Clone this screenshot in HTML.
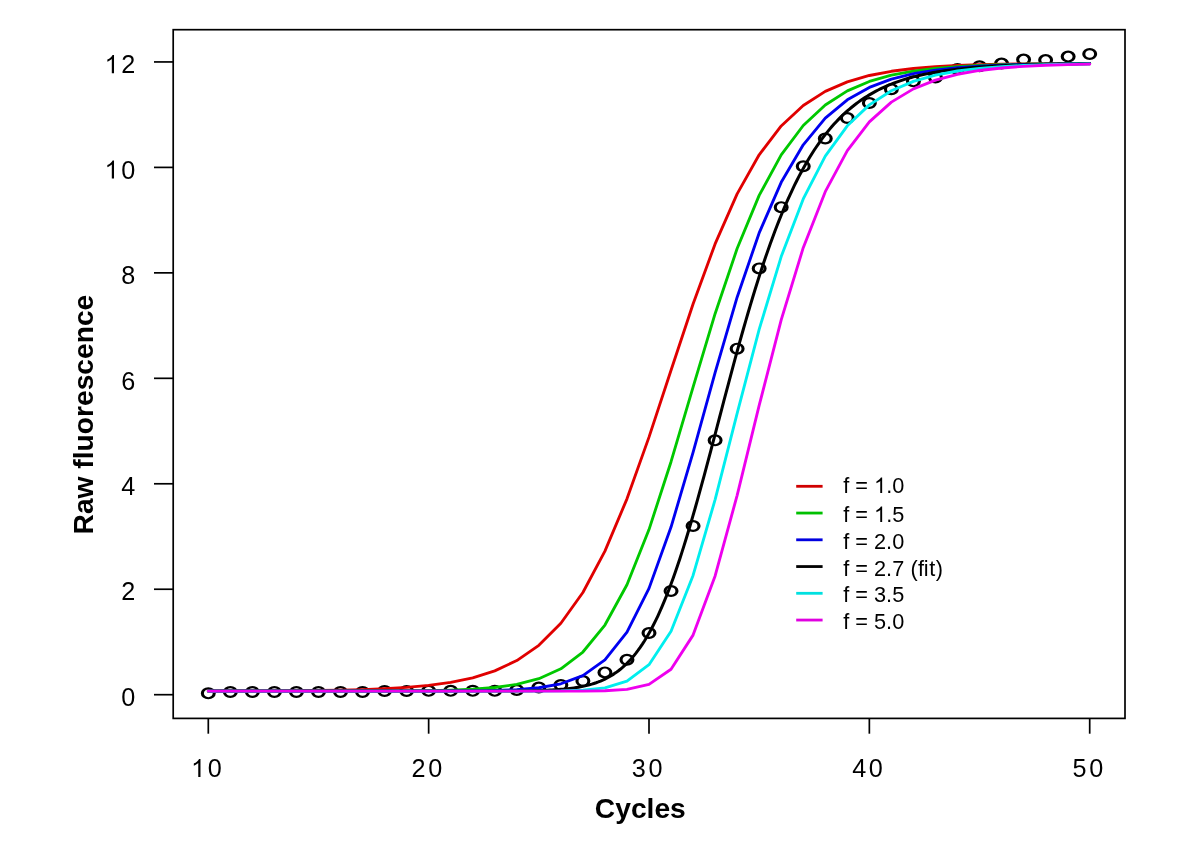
<!DOCTYPE html>
<html><head><meta charset="utf-8"><style>
html,body{margin:0;padding:0;background:#fff;}
svg{display:block;}
text{font-family:"Liberation Sans",sans-serif;fill:#000;}
svg{will-change:transform;}
</style></head><body>
<svg width="1200" height="848" viewBox="0 0 1200 848">
<rect width="1200" height="848" fill="#fff"/>
<g fill="#000" fill-rule="evenodd">
<path d="M200.80 693.30a7.5 6.0 0 1 0 15.0 0a7.5 6.0 0 1 0 -15.0 0ZM203.90 693.30a4.4 3.85 0 1 0 8.8 0a4.4 3.85 0 1 0 -8.8 0Z"/>
<path d="M222.84 692.00a7.5 6.0 0 1 0 15.0 0a7.5 6.0 0 1 0 -15.0 0ZM225.94 692.00a4.4 3.85 0 1 0 8.8 0a4.4 3.85 0 1 0 -8.8 0Z"/>
<path d="M244.87 692.00a7.5 6.0 0 1 0 15.0 0a7.5 6.0 0 1 0 -15.0 0ZM247.97 692.00a4.4 3.85 0 1 0 8.8 0a4.4 3.85 0 1 0 -8.8 0Z"/>
<path d="M266.91 692.00a7.5 6.0 0 1 0 15.0 0a7.5 6.0 0 1 0 -15.0 0ZM270.01 692.00a4.4 3.85 0 1 0 8.8 0a4.4 3.85 0 1 0 -8.8 0Z"/>
<path d="M288.94 692.00a7.5 6.0 0 1 0 15.0 0a7.5 6.0 0 1 0 -15.0 0ZM292.04 692.00a4.4 3.85 0 1 0 8.8 0a4.4 3.85 0 1 0 -8.8 0Z"/>
<path d="M310.98 692.00a7.5 6.0 0 1 0 15.0 0a7.5 6.0 0 1 0 -15.0 0ZM314.08 692.00a4.4 3.85 0 1 0 8.8 0a4.4 3.85 0 1 0 -8.8 0Z"/>
<path d="M333.01 692.00a7.5 6.0 0 1 0 15.0 0a7.5 6.0 0 1 0 -15.0 0ZM336.11 692.00a4.4 3.85 0 1 0 8.8 0a4.4 3.85 0 1 0 -8.8 0Z"/>
<path d="M355.05 692.00a7.5 6.0 0 1 0 15.0 0a7.5 6.0 0 1 0 -15.0 0ZM358.15 692.00a4.4 3.85 0 1 0 8.8 0a4.4 3.85 0 1 0 -8.8 0Z"/>
<path d="M377.08 691.00a7.5 6.0 0 1 0 15.0 0a7.5 6.0 0 1 0 -15.0 0ZM380.18 691.00a4.4 3.85 0 1 0 8.8 0a4.4 3.85 0 1 0 -8.8 0Z"/>
<path d="M399.12 691.00a7.5 6.0 0 1 0 15.0 0a7.5 6.0 0 1 0 -15.0 0ZM402.22 691.00a4.4 3.85 0 1 0 8.8 0a4.4 3.85 0 1 0 -8.8 0Z"/>
<path d="M421.15 690.80a7.5 6.0 0 1 0 15.0 0a7.5 6.0 0 1 0 -15.0 0ZM424.25 690.80a4.4 3.85 0 1 0 8.8 0a4.4 3.85 0 1 0 -8.8 0Z"/>
<path d="M443.19 690.80a7.5 6.0 0 1 0 15.0 0a7.5 6.0 0 1 0 -15.0 0ZM446.29 690.80a4.4 3.85 0 1 0 8.8 0a4.4 3.85 0 1 0 -8.8 0Z"/>
<path d="M465.22 690.80a7.5 6.0 0 1 0 15.0 0a7.5 6.0 0 1 0 -15.0 0ZM468.32 690.80a4.4 3.85 0 1 0 8.8 0a4.4 3.85 0 1 0 -8.8 0Z"/>
<path d="M487.25 690.80a7.5 6.0 0 1 0 15.0 0a7.5 6.0 0 1 0 -15.0 0ZM490.36 690.80a4.4 3.85 0 1 0 8.8 0a4.4 3.85 0 1 0 -8.8 0Z"/>
<path d="M509.29 690.00a7.5 6.0 0 1 0 15.0 0a7.5 6.0 0 1 0 -15.0 0ZM512.39 690.00a4.4 3.85 0 1 0 8.8 0a4.4 3.85 0 1 0 -8.8 0Z"/>
<path d="M531.33 687.50a7.5 6.0 0 1 0 15.0 0a7.5 6.0 0 1 0 -15.0 0ZM534.43 687.50a4.4 3.85 0 1 0 8.8 0a4.4 3.85 0 1 0 -8.8 0Z"/>
<path d="M553.36 685.00a7.5 6.0 0 1 0 15.0 0a7.5 6.0 0 1 0 -15.0 0ZM556.46 685.00a4.4 3.85 0 1 0 8.8 0a4.4 3.85 0 1 0 -8.8 0Z"/>
<path d="M575.39 681.00a7.5 6.0 0 1 0 15.0 0a7.5 6.0 0 1 0 -15.0 0ZM578.50 681.00a4.4 3.85 0 1 0 8.8 0a4.4 3.85 0 1 0 -8.8 0Z"/>
<path d="M597.43 672.40a7.5 6.0 0 1 0 15.0 0a7.5 6.0 0 1 0 -15.0 0ZM600.53 672.40a4.4 3.85 0 1 0 8.8 0a4.4 3.85 0 1 0 -8.8 0Z"/>
<path d="M619.47 659.80a7.5 6.0 0 1 0 15.0 0a7.5 6.0 0 1 0 -15.0 0ZM622.57 659.80a4.4 3.85 0 1 0 8.8 0a4.4 3.85 0 1 0 -8.8 0Z"/>
<path d="M641.50 633.00a7.5 6.0 0 1 0 15.0 0a7.5 6.0 0 1 0 -15.0 0ZM644.60 633.00a4.4 3.85 0 1 0 8.8 0a4.4 3.85 0 1 0 -8.8 0Z"/>
<path d="M663.54 591.00a7.5 6.0 0 1 0 15.0 0a7.5 6.0 0 1 0 -15.0 0ZM666.64 591.00a4.4 3.85 0 1 0 8.8 0a4.4 3.85 0 1 0 -8.8 0Z"/>
<path d="M685.57 526.00a7.5 6.0 0 1 0 15.0 0a7.5 6.0 0 1 0 -15.0 0ZM688.67 526.00a4.4 3.85 0 1 0 8.8 0a4.4 3.85 0 1 0 -8.8 0Z"/>
<path d="M707.61 440.30a7.5 6.0 0 1 0 15.0 0a7.5 6.0 0 1 0 -15.0 0ZM710.71 440.30a4.4 3.85 0 1 0 8.8 0a4.4 3.85 0 1 0 -8.8 0Z"/>
<path d="M729.64 348.70a7.5 6.0 0 1 0 15.0 0a7.5 6.0 0 1 0 -15.0 0ZM732.74 348.70a4.4 3.85 0 1 0 8.8 0a4.4 3.85 0 1 0 -8.8 0Z"/>
<path d="M751.67 268.40a7.5 6.0 0 1 0 15.0 0a7.5 6.0 0 1 0 -15.0 0ZM754.77 268.40a4.4 3.85 0 1 0 8.8 0a4.4 3.85 0 1 0 -8.8 0Z"/>
<path d="M773.71 207.20a7.5 6.0 0 1 0 15.0 0a7.5 6.0 0 1 0 -15.0 0ZM776.81 207.20a4.4 3.85 0 1 0 8.8 0a4.4 3.85 0 1 0 -8.8 0Z"/>
<path d="M795.75 166.30a7.5 6.0 0 1 0 15.0 0a7.5 6.0 0 1 0 -15.0 0ZM798.85 166.30a4.4 3.85 0 1 0 8.8 0a4.4 3.85 0 1 0 -8.8 0Z"/>
<path d="M817.78 138.50a7.5 6.0 0 1 0 15.0 0a7.5 6.0 0 1 0 -15.0 0ZM820.88 138.50a4.4 3.85 0 1 0 8.8 0a4.4 3.85 0 1 0 -8.8 0Z"/>
<path d="M839.82 118.00a7.5 6.0 0 1 0 15.0 0a7.5 6.0 0 1 0 -15.0 0ZM842.92 118.00a4.4 3.85 0 1 0 8.8 0a4.4 3.85 0 1 0 -8.8 0Z"/>
<path d="M861.85 103.00a7.5 6.0 0 1 0 15.0 0a7.5 6.0 0 1 0 -15.0 0ZM864.95 103.00a4.4 3.85 0 1 0 8.8 0a4.4 3.85 0 1 0 -8.8 0Z"/>
<path d="M883.88 89.20a7.5 6.0 0 1 0 15.0 0a7.5 6.0 0 1 0 -15.0 0ZM886.99 89.20a4.4 3.85 0 1 0 8.8 0a4.4 3.85 0 1 0 -8.8 0Z"/>
<path d="M905.92 81.30a7.5 6.0 0 1 0 15.0 0a7.5 6.0 0 1 0 -15.0 0ZM909.02 81.30a4.4 3.85 0 1 0 8.8 0a4.4 3.85 0 1 0 -8.8 0Z"/>
<path d="M927.95 77.50a7.5 6.0 0 1 0 15.0 0a7.5 6.0 0 1 0 -15.0 0ZM931.05 77.50a4.4 3.85 0 1 0 8.8 0a4.4 3.85 0 1 0 -8.8 0Z"/>
<path d="M949.99 68.90a7.5 6.0 0 1 0 15.0 0a7.5 6.0 0 1 0 -15.0 0ZM953.09 68.90a4.4 3.85 0 1 0 8.8 0a4.4 3.85 0 1 0 -8.8 0Z"/>
<path d="M972.03 66.25a7.5 6.0 0 1 0 15.0 0a7.5 6.0 0 1 0 -15.0 0ZM975.13 66.25a4.4 3.85 0 1 0 8.8 0a4.4 3.85 0 1 0 -8.8 0Z"/>
<path d="M994.06 63.60a7.5 6.0 0 1 0 15.0 0a7.5 6.0 0 1 0 -15.0 0ZM997.16 63.60a4.4 3.85 0 1 0 8.8 0a4.4 3.85 0 1 0 -8.8 0Z"/>
<path d="M1016.10 59.60a7.5 6.0 0 1 0 15.0 0a7.5 6.0 0 1 0 -15.0 0ZM1019.20 59.60a4.4 3.85 0 1 0 8.8 0a4.4 3.85 0 1 0 -8.8 0Z"/>
<path d="M1038.13 60.10a7.5 6.0 0 1 0 15.0 0a7.5 6.0 0 1 0 -15.0 0ZM1041.23 60.10a4.4 3.85 0 1 0 8.8 0a4.4 3.85 0 1 0 -8.8 0Z"/>
<path d="M1060.66 56.60a7.5 6.0 0 1 0 15.0 0a7.5 6.0 0 1 0 -15.0 0ZM1063.76 56.60a4.4 3.85 0 1 0 8.8 0a4.4 3.85 0 1 0 -8.8 0Z"/>
<path d="M1082.20 54.00a7.5 6.0 0 1 0 15.0 0a7.5 6.0 0 1 0 -15.0 0ZM1085.30 54.00a4.4 3.85 0 1 0 8.8 0a4.4 3.85 0 1 0 -8.8 0Z"/>
</g>
<g fill="none" stroke-width="2.85" stroke-linejoin="round" stroke-linecap="round">
<polyline points="208.30,691.04 230.34,691.00 252.37,690.93 274.41,690.83 296.44,690.68 318.48,690.45 340.51,690.09 362.55,689.55 384.58,688.71 406.62,687.41 428.65,685.44 450.69,682.42 472.72,677.84 494.75,670.91 516.79,660.56 538.83,645.30 560.86,623.27 582.89,592.46 604.93,551.15 626.97,498.83 649.00,437.13 671.04,370.22 693.07,303.95 715.11,243.93 737.14,193.83 759.17,154.79 781.21,125.95 803.25,105.50 825.28,91.39 847.32,81.85 869.35,75.49 891.38,71.28 913.42,68.52 935.45,66.71 957.49,65.53 979.53,64.76 1001.56,64.25 1023.60,63.93 1045.63,63.72 1067.66,63.58 1089.70,63.49" stroke="#e00000"/>
<polyline points="208.30,691.11 230.34,691.11 252.37,691.11 274.41,691.11 296.44,691.10 318.48,691.09 340.51,691.07 362.55,691.04 384.58,690.97 406.62,690.83 428.65,690.57 450.69,690.09 472.72,689.18 494.75,687.49 516.79,684.37 538.83,678.74 560.86,668.81 582.89,652.01 604.93,625.03 626.97,584.70 649.00,529.57 671.04,461.70 693.07,387.07 715.11,313.69 737.14,248.53 759.17,195.40 781.21,154.89 803.25,125.51 825.28,104.95 847.32,90.91 869.35,81.48 891.38,75.22 913.42,71.10 935.45,68.39 957.49,66.63 979.53,65.47 1001.56,64.72 1023.60,64.23 1045.63,63.91 1067.66,63.71 1089.70,63.57" stroke="#00c800"/>
<polyline points="208.30,691.11 230.34,691.11 252.37,691.11 274.41,691.11 296.44,691.11 318.48,691.11 340.51,691.11 362.55,691.11 384.58,691.11 406.62,691.09 428.65,691.06 450.69,690.99 472.72,690.83 494.75,690.46 516.79,689.63 538.83,687.77 560.86,683.78 582.89,675.61 604.93,659.91 626.97,632.22 649.00,588.36 671.04,527.09 693.07,452.34 715.11,372.57 737.14,297.21 759.17,232.93 781.21,182.34 803.25,144.84 825.28,118.20 847.32,99.83 869.35,87.42 891.38,79.14 913.42,73.67 935.45,70.08 957.49,67.72 979.53,66.19 1001.56,65.19 1023.60,64.53 1045.63,64.11 1067.66,63.83 1089.70,63.65" stroke="#0000f0"/>
<polyline points="208.30,691.11 210.50,691.11 212.71,691.11 214.91,691.11 217.11,691.11 219.32,691.11 221.52,691.11 223.72,691.11 225.93,691.11 228.13,691.11 230.34,691.11 232.54,691.11 234.74,691.11 236.95,691.11 239.15,691.11 241.35,691.11 243.56,691.11 245.76,691.11 247.96,691.11 250.17,691.11 252.37,691.11 254.57,691.11 256.78,691.11 258.98,691.11 261.18,691.11 263.39,691.11 265.59,691.11 267.79,691.11 270.00,691.11 272.20,691.11 274.41,691.11 276.61,691.11 278.81,691.11 281.02,691.11 283.22,691.11 285.42,691.11 287.63,691.11 289.83,691.11 292.03,691.11 294.24,691.11 296.44,691.11 298.64,691.11 300.85,691.11 303.05,691.11 305.25,691.11 307.46,691.11 309.66,691.11 311.86,691.11 314.07,691.11 316.27,691.11 318.48,691.11 320.68,691.11 322.88,691.11 325.09,691.11 327.29,691.11 329.49,691.11 331.70,691.11 333.90,691.11 336.10,691.11 338.31,691.11 340.51,691.11 342.71,691.11 344.92,691.11 347.12,691.11 349.32,691.11 351.53,691.11 353.73,691.11 355.93,691.11 358.14,691.11 360.34,691.11 362.55,691.11 364.75,691.11 366.95,691.11 369.16,691.11 371.36,691.11 373.56,691.11 375.77,691.11 377.97,691.11 380.17,691.11 382.38,691.11 384.58,691.11 386.78,691.11 388.99,691.11 391.19,691.11 393.39,691.11 395.60,691.11 397.80,691.11 400.00,691.11 402.21,691.11 404.41,691.11 406.62,691.11 408.82,691.11 411.02,691.11 413.23,691.11 415.43,691.11 417.63,691.11 419.84,691.11 422.04,691.11 424.24,691.11 426.45,691.11 428.65,691.11 430.85,691.11 433.06,691.11 435.26,691.11 437.46,691.11 439.67,691.11 441.87,691.11 444.07,691.11 446.28,691.11 448.48,691.11 450.69,691.11 452.89,691.11 455.09,691.10 457.30,691.10 459.50,691.10 461.70,691.10 463.91,691.10 466.11,691.10 468.31,691.09 470.52,691.09 472.72,691.09 474.92,691.09 477.13,691.08 479.33,691.08 481.53,691.08 483.74,691.07 485.94,691.07 488.14,691.06 490.35,691.06 492.55,691.05 494.75,691.04 496.96,691.03 499.16,691.02 501.37,691.01 503.57,691.00 505.77,690.99 507.98,690.97 510.18,690.96 512.38,690.94 514.59,690.92 516.79,690.90 518.99,690.87 521.20,690.84 523.40,690.81 525.60,690.78 527.81,690.74 530.01,690.70 532.21,690.65 534.42,690.60 536.62,690.54 538.83,690.48 541.03,690.41 543.23,690.33 545.44,690.25 547.64,690.15 549.84,690.04 552.05,689.93 554.25,689.80 556.45,689.66 558.66,689.50 560.86,689.33 563.06,689.14 565.27,688.93 567.47,688.70 569.67,688.45 571.88,688.17 574.08,687.87 576.28,687.53 578.49,687.17 580.69,686.77 582.89,686.33 585.10,685.85 587.30,685.32 589.51,684.75 591.71,684.13 593.91,683.45 596.12,682.72 598.32,681.92 600.52,681.05 602.73,680.10 604.93,679.08 607.13,677.98 609.34,676.78 611.54,675.50 613.74,674.11 615.95,672.61 618.15,671.01 620.35,669.28 622.56,667.43 624.76,665.45 626.97,663.33 629.17,661.07 631.37,658.66 633.58,656.09 635.78,653.36 637.98,650.46 640.19,647.39 642.39,644.14 644.59,640.71 646.80,637.09 649.00,633.27 651.20,629.26 653.41,625.05 655.61,620.64 657.81,616.02 660.02,611.20 662.22,606.17 664.42,600.94 666.63,595.50 668.83,589.85 671.04,584.01 673.24,577.96 675.44,571.72 677.65,565.29 679.85,558.67 682.05,551.87 684.26,544.90 686.46,537.76 688.66,530.47 690.87,523.03 693.07,515.45 695.27,507.74 697.48,499.91 699.68,491.97 701.88,483.93 704.09,475.81 706.29,467.61 708.49,459.35 710.70,451.04 712.90,442.69 715.11,434.30 717.31,425.91 719.51,417.50 721.72,409.11 723.92,400.73 726.12,392.38 728.33,384.06 730.53,375.80 732.73,367.59 734.94,359.46 737.14,351.39 739.34,343.41 741.55,335.53 743.75,327.74 745.95,320.06 748.16,312.50 750.36,305.05 752.56,297.72 754.77,290.52 756.97,283.46 759.17,276.53 761.38,269.74 763.58,263.09 765.79,256.58 767.99,250.22 770.19,244.01 772.40,237.95 774.60,232.03 776.80,226.27 779.01,220.65 781.21,215.19 783.41,209.87 785.62,204.69 787.82,199.67 790.02,194.79 792.23,190.05 794.43,185.45 796.63,180.99 798.84,176.67 801.04,172.49 803.25,168.43 805.45,164.51 807.65,160.71 809.86,157.04 812.06,153.49 814.26,150.06 816.47,146.75 818.67,143.55 820.87,140.46 823.08,137.48 825.28,134.60 827.48,131.82 829.69,129.15 831.89,126.57 834.09,124.08 836.30,121.68 838.50,119.38 840.70,117.15 842.91,115.01 845.11,112.95 847.32,110.97 849.52,109.06 851.72,107.23 853.93,105.46 856.13,103.77 858.33,102.13 860.54,100.56 862.74,99.06 864.94,97.60 867.15,96.21 869.35,94.87 871.55,93.59 873.76,92.35 875.96,91.16 878.16,90.02 880.37,88.93 882.57,87.88 884.77,86.87 886.98,85.90 889.18,84.97 891.38,84.08 893.59,83.22 895.79,82.40 898.00,81.61 900.20,80.85 902.40,80.13 904.61,79.43 906.81,78.76 909.01,78.12 911.22,77.51 913.42,76.92 915.62,76.35 917.83,75.81 920.03,75.29 922.23,74.79 924.44,74.31 926.64,73.86 928.84,73.42 931.05,73.00 933.25,72.59 935.45,72.20 937.66,71.83 939.86,71.48 942.07,71.14 944.27,70.81 946.47,70.50 948.68,70.20 950.88,69.91 953.08,69.63 955.29,69.37 957.49,69.11 959.69,68.87 961.90,68.64 964.10,68.41 966.30,68.20 968.51,68.00 970.71,67.80 972.91,67.61 975.12,67.43 977.32,67.26 979.53,67.09 981.73,66.94 983.93,66.78 986.14,66.64 988.34,66.50 990.54,66.36 992.75,66.24 994.95,66.11 997.15,66.00 999.36,65.88 1001.56,65.78 1003.76,65.67 1005.97,65.57 1008.17,65.48 1010.37,65.39 1012.58,65.30 1014.78,65.22 1016.98,65.14 1019.19,65.06 1021.39,64.99 1023.60,64.92 1025.80,64.85 1028.00,64.79 1030.21,64.72 1032.41,64.67 1034.61,64.61 1036.82,64.55 1039.02,64.50 1041.22,64.45 1043.43,64.41 1045.63,64.36 1047.83,64.32 1050.04,64.27 1052.24,64.23 1054.44,64.20 1056.65,64.16 1058.85,64.12 1061.05,64.09 1063.26,64.06 1065.46,64.03 1067.66,64.00 1069.87,63.97 1072.07,63.94 1074.28,63.91 1076.48,63.89 1078.68,63.87 1080.89,63.84 1083.09,63.82 1085.29,63.80 1087.50,63.78 1089.70,63.76" stroke="#000000" stroke-width="3.0"/>
<polyline points="208.30,691.11 230.34,691.11 252.37,691.11 274.41,691.11 296.44,691.11 318.48,691.11 340.51,691.11 362.55,691.11 384.58,691.11 406.62,691.11 428.65,691.11 450.69,691.11 472.72,691.11 494.75,691.11 516.79,691.10 538.83,691.05 560.86,690.85 582.89,690.15 604.93,687.83 626.97,681.13 649.00,664.67 671.04,631.18 693.07,575.47 715.11,499.61 737.14,413.42 759.17,329.32 781.21,256.54 803.25,198.95 825.28,156.18 847.32,125.81 869.35,104.88 891.38,90.74 913.42,81.32 935.45,75.09 957.49,71.00 979.53,68.33 1001.56,66.58 1023.60,65.44 1045.63,64.70 1067.66,64.22 1089.70,63.90" stroke="#00eeee"/>
<polyline points="208.30,691.11 230.34,691.11 252.37,691.11 274.41,691.11 296.44,691.11 318.48,691.11 340.51,691.11 362.55,691.11 384.58,691.11 406.62,691.11 428.65,691.11 450.69,691.11 472.72,691.11 494.75,691.11 516.79,691.11 538.83,691.11 560.86,691.11 582.89,691.05 604.93,690.77 626.97,689.42 649.00,684.31 671.04,669.21 693.07,635.11 715.11,575.98 737.14,495.34 759.17,405.43 781.21,319.93 803.25,247.70 825.28,191.65 847.32,150.65 869.35,121.84 891.38,102.12 913.42,88.87 935.45,80.07 957.49,74.27 979.53,70.46 1001.56,67.97 1023.60,66.35 1045.63,65.29 1067.66,64.60 1089.70,64.15" stroke="#ee00ee"/>
</g>
<g stroke="#000" stroke-width="1.7" stroke-linecap="butt" fill="none">
<rect x="173.2" y="29.7" width="951.8" height="688.7" fill="none"/>
<line x1="154" y1="694.70" x2="173.2" y2="694.70"/>
<line x1="154" y1="589.24" x2="173.2" y2="589.24"/>
<line x1="154" y1="483.78" x2="173.2" y2="483.78"/>
<line x1="154" y1="378.32" x2="173.2" y2="378.32"/>
<line x1="154" y1="272.86" x2="173.2" y2="272.86"/>
<line x1="154" y1="167.40" x2="173.2" y2="167.40"/>
<line x1="154" y1="61.94" x2="173.2" y2="61.94"/>
<line x1="208.30" y1="718.4" x2="208.30" y2="733.7"/>
<line x1="428.65" y1="718.4" x2="428.65" y2="733.7"/>
<line x1="649.00" y1="718.4" x2="649.00" y2="733.7"/>
<line x1="869.35" y1="718.4" x2="869.35" y2="733.7"/>
<line x1="1089.70" y1="718.4" x2="1089.70" y2="733.7"/>
</g>
<g font-size="25.2" fill="#000">
<text x="121.34" y="705.90">0</text>
<text x="121.34" y="600.44">2</text>
<text x="121.34" y="494.98">4</text>
<text x="121.34" y="389.52">6</text>
<text x="121.34" y="284.06">8</text>
<text x="121.34" y="178.60">0</text>
<path d="M763 0L583 0L583 1147Q518 1085 412 1023Q306 961 222 930L222 1104Q373 1175 486 1276Q599 1377 646 1472L763 1472Z" transform="translate(104.63,178.60) scale(0.012305,-0.012305)"/>
<text x="121.34" y="73.14">2</text>
<path d="M763 0L583 0L583 1147Q518 1085 412 1023Q306 961 222 930L222 1104Q373 1175 486 1276Q599 1377 646 1472L763 1472Z" transform="translate(104.63,73.14) scale(0.012305,-0.012305)"/>
<text x="207.80" y="777.10">0</text>
<path d="M763 0L583 0L583 1147Q518 1085 412 1023Q306 961 222 930L222 1104Q373 1175 486 1276Q599 1377 646 1472L763 1472Z" transform="translate(191.09,777.10) scale(0.012305,-0.012305)"/>
<text x="428.15" y="777.10">0</text>
<text x="411.44" y="777.10">2</text>
<text x="648.50" y="777.10">0</text>
<text x="631.79" y="777.10">3</text>
<text x="868.85" y="777.10">0</text>
<text x="852.14" y="777.10">4</text>
<text x="1089.20" y="777.10">0</text>
<text x="1072.49" y="777.10">5</text>
</g>
<g font-size="28.2" font-weight="bold">
<text x="640.3" y="817.6" text-anchor="middle">Cycles</text>
<text transform="translate(93.4,414.6) rotate(-90)" text-anchor="middle">Raw fluorescence</text>
</g>
<g stroke-width="2.8" fill="none">
<line x1="796.2" y1="486.30" x2="822.6" y2="486.30" stroke="#d00000"/>
<line x1="796.2" y1="513.05" x2="822.6" y2="513.05" stroke="#00c000"/>
<line x1="796.2" y1="539.80" x2="822.6" y2="539.80" stroke="#0000e0"/>
<line x1="796.2" y1="566.55" x2="822.6" y2="566.55" stroke="#000000"/>
<line x1="796.2" y1="593.30" x2="822.6" y2="593.30" stroke="#00e0e0"/>
<line x1="796.2" y1="620.05" x2="822.6" y2="620.05" stroke="#e000e0"/>
</g>
<g font-size="21.7" fill="#000">
<text x="843.3" y="493.10" xml:space="preserve">f = </text>
<path d="M763 0L583 0L583 1147Q518 1085 412 1023Q306 961 222 930L222 1104Q373 1175 486 1276Q599 1377 646 1472L763 1472Z" transform="translate(874.07,493.10) scale(0.010596,-0.010596)"/>
<text x="886.14" y="493.10">.0</text>
<text x="843.3" y="522.05" xml:space="preserve">f = </text>
<path d="M763 0L583 0L583 1147Q518 1085 412 1023Q306 961 222 930L222 1104Q373 1175 486 1276Q599 1377 646 1472L763 1472Z" transform="translate(874.07,522.05) scale(0.010596,-0.010596)"/>
<text x="886.14" y="522.05">.5</text>
<text x="843.3" y="548.80">f = 2.0</text>
<text x="843.3" y="575.90" xml:space="preserve">f = 2.7 </text>
<text x="910.57" y="575.90">(</text>
<text x="917.99" y="575.90">f</text>
<text x="923.82" y="575.90">i</text>
<text x="929.14" y="575.90">t</text>
<text x="935.77" y="575.90">)</text>
<text x="843.3" y="602.10">f = 3.5</text>
<text x="843.3" y="629.00">f = 5.0</text>
</g>
</svg>
</body></html>
